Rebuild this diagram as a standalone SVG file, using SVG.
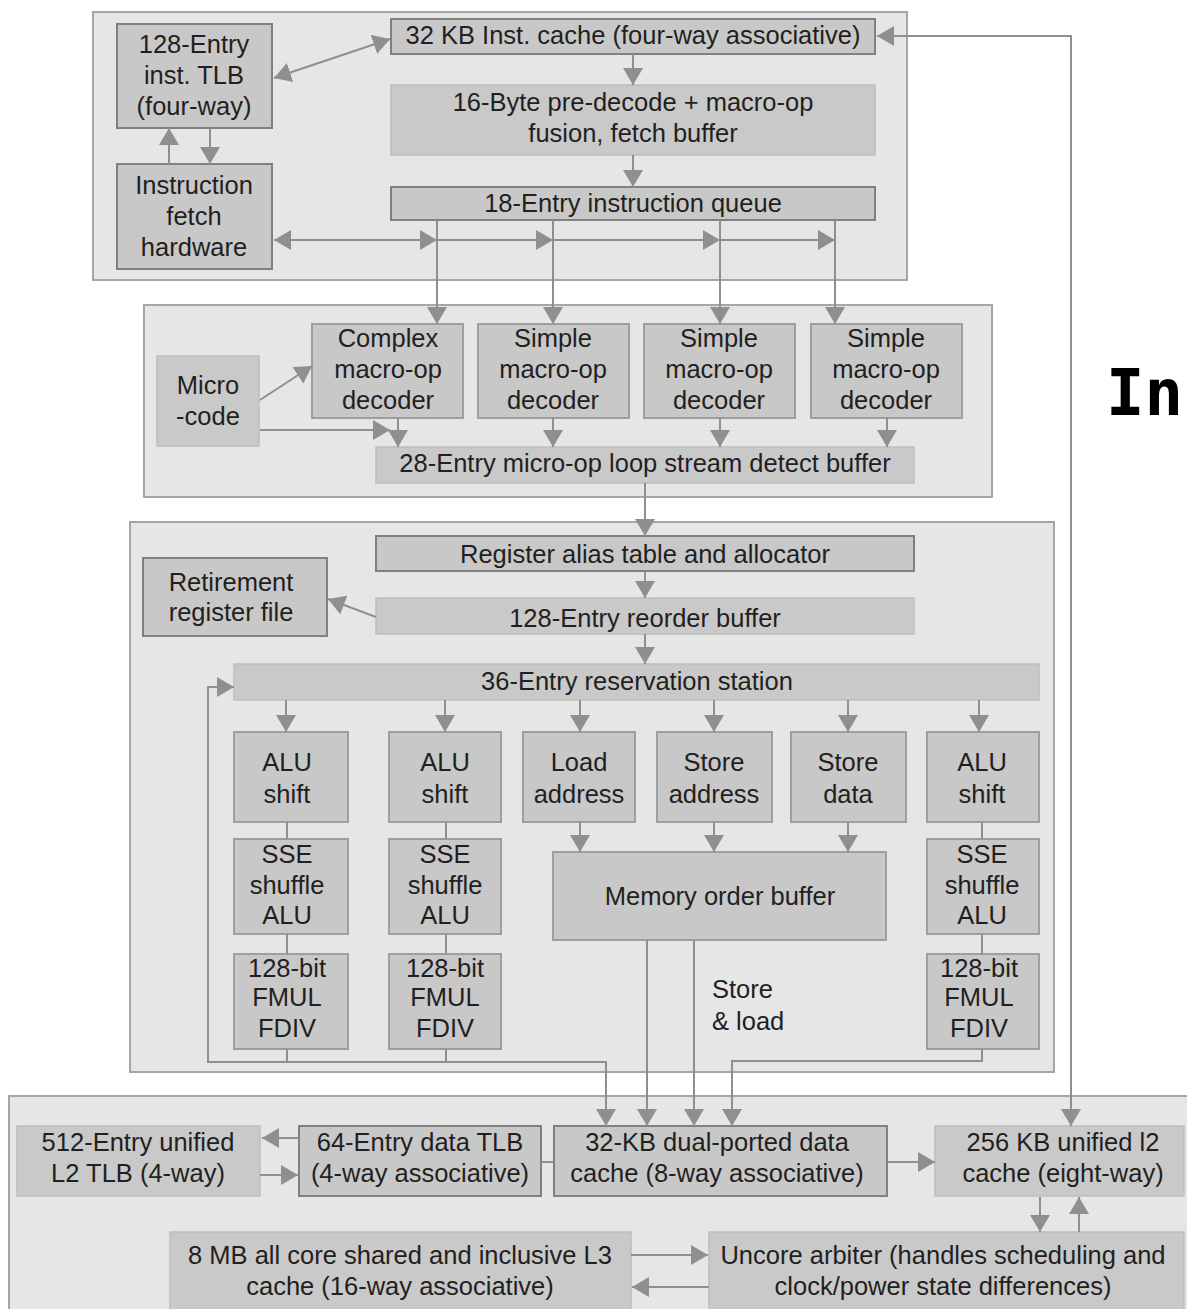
<svg xmlns="http://www.w3.org/2000/svg" width="1187" height="1309" viewBox="0 0 1187 1309">
  <style>
    .pn { fill: #e6e6e6; stroke: #a6a6a6; stroke-width: 2; }
    .nd { fill: #c8c8c8; stroke: #808080; stroke-width: 2; }
    .nm { fill: #c8c8c8; stroke: #9e9e9e; stroke-width: 2; }
    .nl { fill: #c9c9c9; stroke: #bdbdbd; stroke-width: 1.5; }
    .t { font-family: "Liberation Sans", Arial, Helvetica, sans-serif; font-size: 25.5px; fill: #231f20; text-anchor: middle; }
    .ts { text-anchor: start; }
    .c { fill: none; stroke: #8f8f8f; stroke-width: 2; }
    .big { font-family: "DejaVu Sans Mono", "Liberation Mono", monospace; font-weight: bold; font-size: 64px; fill: #000; }
  </style>
  <defs>
    <marker id="ah" viewBox="0 0 17 20" markerWidth="17" markerHeight="20" refX="17" refY="10" markerUnits="userSpaceOnUse" orient="auto-start-reverse">
      <path d="M0,0 L17,10 L0,20 Z" fill="#8f8f8f"/>
    </marker>
  </defs>

  <!-- section backgrounds -->
  <g id="panels">
    <rect class="pn" x="93" y="12" width="814" height="268"/>
    <rect class="pn" x="144" y="305" width="848" height="192"/>
    <rect class="pn" x="130" y="522" width="924" height="550"/>
    <rect class="pn" x="9" y="1096" width="1190" height="220"/>
  </g>

  <!-- front end -->
  <g id="itlb"><rect class="nd" x="117" y="24" width="155" height="104"/>
    <text class="t" x="194" y="53">128-Entry</text><text class="t" x="194" y="84">inst. TLB</text><text class="t" x="194" y="115">(four-way)</text></g>
  <g id="ifetch"><rect class="nd" x="117" y="164" width="155" height="105"/>
    <text class="t" x="194" y="194">Instruction</text><text class="t" x="194" y="225">fetch</text><text class="t" x="194" y="256">hardware</text></g>
  <g id="icache"><rect class="nd" x="391" y="19" width="484" height="35"/>
    <text class="t" x="633" y="44">32 KB Inst. cache (four-way associative)</text></g>
  <g id="predecode"><rect class="nl" x="391" y="85" width="484" height="70"/>
    <text class="t" x="633" y="111">16-Byte pre-decode + macro-op</text><text class="t" x="633" y="142">fusion, fetch buffer</text></g>
  <g id="iqueue"><rect class="nd" x="391" y="187" width="484" height="33"/>
    <text class="t" x="633" y="212">18-Entry instruction queue</text></g>

  <!-- decode -->
  <g id="microcode"><rect class="nl" x="157" y="356" width="102" height="90"/>
    <text class="t" x="208" y="394">Micro</text><text class="t" x="208" y="425">-code</text></g>
  <g id="dec0"><rect class="nm" x="312" y="324" width="151" height="94"/>
    <text class="t" x="388" y="347">Complex</text><text class="t" x="388" y="378">macro-op</text><text class="t" x="388" y="409">decoder</text></g>
  <g id="dec1"><rect class="nm" x="478" y="324" width="151" height="94"/>
    <text class="t" x="553" y="347">Simple</text><text class="t" x="553" y="378">macro-op</text><text class="t" x="553" y="409">decoder</text></g>
  <g id="dec2"><rect class="nm" x="644" y="324" width="151" height="94"/>
    <text class="t" x="719" y="347">Simple</text><text class="t" x="719" y="378">macro-op</text><text class="t" x="719" y="409">decoder</text></g>
  <g id="dec3"><rect class="nm" x="811" y="324" width="151" height="94"/>
    <text class="t" x="886" y="347">Simple</text><text class="t" x="886" y="378">macro-op</text><text class="t" x="886" y="409">decoder</text></g>
  <g id="lsd"><rect class="nl" x="376" y="447" width="538" height="36"/>
    <text class="t" x="645" y="472">28-Entry micro-op loop stream detect buffer</text></g>

  <!-- out-of-order engine -->
  <g id="rat"><rect class="nd" x="376" y="536" width="538" height="35"/>
    <text class="t" x="645" y="563">Register alias table and allocator</text></g>
  <g id="rrf"><rect class="nd" x="143" y="558" width="184" height="78"/>
    <text class="t" x="231" y="591">Retirement</text><text class="t" x="231" y="621">register file</text></g>
  <g id="rob"><rect class="nl" x="376" y="598" width="538" height="36"/>
    <text class="t" x="645" y="627">128-Entry reorder buffer</text></g>
  <g id="rs"><rect class="nl" x="234" y="664" width="805" height="36"/>
    <text class="t" x="637" y="690">36-Entry reservation station</text></g>

  <!-- execution units -->
  <g id="alu0"><rect class="nm" x="234" y="732" width="114" height="90"/>
    <text class="t" x="287" y="771">ALU</text><text class="t" x="287" y="803">shift</text></g>
  <g id="alu1"><rect class="nm" x="389" y="732" width="112" height="90"/>
    <text class="t" x="445" y="771">ALU</text><text class="t" x="445" y="803">shift</text></g>
  <g id="ldaddr"><rect class="nm" x="523" y="732" width="112" height="90"/>
    <text class="t" x="579" y="771">Load</text><text class="t" x="579" y="803">address</text></g>
  <g id="staddr"><rect class="nm" x="657" y="732" width="115" height="90"/>
    <text class="t" x="714" y="771">Store</text><text class="t" x="714" y="803">address</text></g>
  <g id="stdata"><rect class="nm" x="791" y="732" width="115" height="90"/>
    <text class="t" x="848" y="771">Store</text><text class="t" x="848" y="803">data</text></g>
  <g id="alu2"><rect class="nm" x="927" y="732" width="112" height="90"/>
    <text class="t" x="982" y="771">ALU</text><text class="t" x="982" y="803">shift</text></g>
  <g id="sse0"><rect class="nm" x="234" y="839" width="114" height="95"/>
    <text class="t" x="287" y="863">SSE</text><text class="t" x="287" y="894">shuffle</text><text class="t" x="287" y="924">ALU</text></g>
  <g id="sse1"><rect class="nm" x="389" y="839" width="112" height="95"/>
    <text class="t" x="445" y="863">SSE</text><text class="t" x="445" y="894">shuffle</text><text class="t" x="445" y="924">ALU</text></g>
  <g id="sse2"><rect class="nm" x="927" y="839" width="112" height="95"/>
    <text class="t" x="982" y="863">SSE</text><text class="t" x="982" y="894">shuffle</text><text class="t" x="982" y="924">ALU</text></g>
  <g id="fp0"><rect class="nm" x="234" y="954" width="114" height="95"/>
    <text class="t" x="287" y="977">128-bit</text><text class="t" x="287" y="1006">FMUL</text><text class="t" x="287" y="1037">FDIV</text></g>
  <g id="fp1"><rect class="nm" x="389" y="954" width="112" height="95"/>
    <text class="t" x="445" y="977">128-bit</text><text class="t" x="445" y="1006">FMUL</text><text class="t" x="445" y="1037">FDIV</text></g>
  <g id="fp2"><rect class="nm" x="927" y="954" width="112" height="95"/>
    <text class="t" x="979" y="977">128-bit</text><text class="t" x="979" y="1006">FMUL</text><text class="t" x="979" y="1037">FDIV</text></g>
  <g id="mob"><rect class="nm" x="553" y="852" width="333" height="88"/>
    <text class="t" x="720" y="905">Memory order buffer</text></g>
  <g id="stld-label">
    <text class="t ts" x="712" y="998">Store</text><text class="t ts" x="712" y="1030">&amp; load</text></g>

  <!-- memory hierarchy -->
  <g id="l2tlb"><rect class="nl" x="17" y="1126" width="243" height="70"/>
    <text class="t" x="138" y="1151">512-Entry unified</text><text class="t" x="138" y="1182">L2 TLB (4-way)</text></g>
  <g id="dtlb"><rect class="nd" x="299" y="1126" width="242" height="70"/>
    <text class="t" x="420" y="1151">64-Entry data TLB</text><text class="t" x="420" y="1182">(4-way associative)</text></g>
  <g id="dcache"><rect class="nd" x="554" y="1126" width="333" height="70"/>
    <text class="t" x="717" y="1151">32-KB dual-ported data</text><text class="t" x="717" y="1182">cache (8-way associative)</text></g>
  <g id="l2"><rect class="nl" x="935" y="1126" width="249" height="70"/>
    <text class="t" x="1063" y="1151">256 KB unified l2</text><text class="t" x="1063" y="1182">cache (eight-way)</text></g>
  <g id="l3"><rect class="nl" x="170" y="1232" width="461" height="82"/>
    <text class="t" x="400" y="1264">8 MB all core shared and inclusive L3</text><text class="t" x="400" y="1295">cache (16-way associative)</text></g>
  <g id="uncore"><rect class="nl" x="709" y="1232" width="475" height="82"/>
    <text class="t" x="943" y="1264">Uncore arbiter (handles scheduling and</text><text class="t" x="943" y="1295">clock/power state differences)</text></g>

  <g id="title"><text class="big" x="1106" y="415">In</text></g>

  <!-- connectors -->
  <g id="connectors" class="c">
    <path d="M274,78 L390,39" marker-start="url(#ah)" marker-end="url(#ah)"/>
    <path d="M633,54 V85" marker-end="url(#ah)"/>
    <path d="M633,155 V187" marker-end="url(#ah)"/>
    <path d="M169,164 V128" marker-end="url(#ah)"/>
    <path d="M210,128 V164" marker-end="url(#ah)"/>
    <path d="M274,240 H437 H553 H720 H835" marker-start="url(#ah)" marker-mid="url(#ah)" marker-end="url(#ah)"/>
    <path d="M437,220 V324" marker-end="url(#ah)"/>
    <path d="M553,220 V324" marker-end="url(#ah)"/>
    <path d="M720,220 V324" marker-end="url(#ah)"/>
    <path d="M835,220 V324" marker-end="url(#ah)"/>

    <path d="M260,400 L312,366" marker-end="url(#ah)"/>
    <path d="M260,430 H390" marker-end="url(#ah)"/>
    <path d="M398,418 V447" marker-end="url(#ah)"/>
    <path d="M553,418 V447" marker-end="url(#ah)"/>
    <path d="M720,418 V447" marker-end="url(#ah)"/>
    <path d="M887,418 V447" marker-end="url(#ah)"/>

    <path d="M645,483 V536" marker-end="url(#ah)"/>
    <path d="M645,571 V598" marker-end="url(#ah)"/>
    <path d="M376,617 L328,599" marker-end="url(#ah)"/>
    <path d="M645,634 V664" marker-end="url(#ah)"/>

    <path d="M286,700 V732" marker-end="url(#ah)"/>
    <path d="M445,700 V732" marker-end="url(#ah)"/>
    <path d="M580,700 V732" marker-end="url(#ah)"/>
    <path d="M714,700 V732" marker-end="url(#ah)"/>
    <path d="M848,700 V732" marker-end="url(#ah)"/>
    <path d="M979,700 V732" marker-end="url(#ah)"/>

    <path d="M287,822 V839 M287,934 V954 M446,822 V839 M446,934 V954 M982,822 V839 M982,934 V954"/>

    <path d="M580,822 V852" marker-end="url(#ah)"/>
    <path d="M714,822 V852" marker-end="url(#ah)"/>
    <path d="M848,822 V852" marker-end="url(#ah)"/>

    <path d="M234,687 H208 V1062 H606 V1126" marker-start="url(#ah)" marker-end="url(#ah)"/>
    <path d="M287,1049 V1062 M446,1049 V1062"/>
    <path d="M647,940 V1126" marker-end="url(#ah)"/>
    <path d="M694,940 V1126" marker-end="url(#ah)"/>
    <path d="M982,1049 V1061 H732 V1126" marker-end="url(#ah)"/>

    <path d="M299,1138 H262" marker-end="url(#ah)"/>
    <path d="M260,1175 H298" marker-end="url(#ah)"/>
    <path d="M541,1162 H554"/>
    <path d="M887,1162 H935" marker-end="url(#ah)"/>
    <path d="M1040,1197 V1232" marker-end="url(#ah)"/>
    <path d="M1079,1232 V1197" marker-end="url(#ah)"/>
    <path d="M631,1255 H708" marker-end="url(#ah)"/>
    <path d="M709,1287 H632" marker-end="url(#ah)"/>
    <path d="M877,36 H1071 V1126" marker-start="url(#ah)" marker-end="url(#ah)"/>
  </g>
</svg>
